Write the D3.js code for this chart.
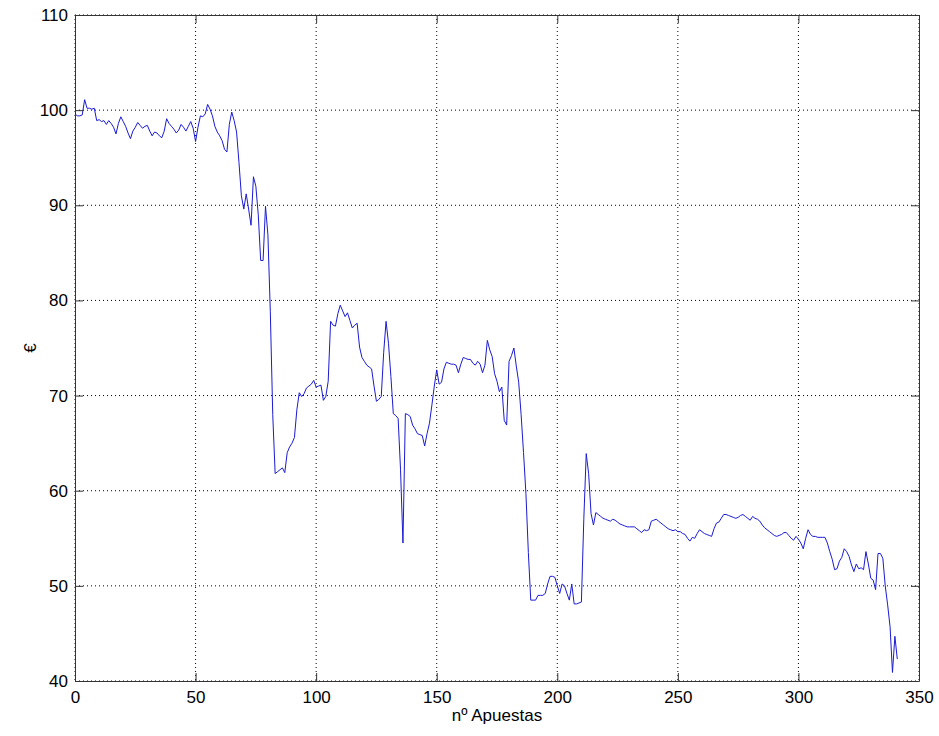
<!DOCTYPE html>
<html>
<head>
<meta charset="utf-8">
<script src="https://cdn.jsdelivr.net/npm/d3@7"></script>
<style>
  body { margin: 0; background: #fff; }
  svg { display: block; font-family: "Liberation Sans", Arial, sans-serif; }
</style>
</head>
<body>
<svg id="chart" width="939" height="736"></svg>
<script>
// balance after each bet (index = bet number)
const euros = [
  99.6, 99.4, 99.4, 99.5, 101.1, 100.2, 100.2, 100.1, 100.2, 98.9,
  99.0, 98.8, 98.9, 98.5, 98.9, 98.6, 98.2, 97.5, 98.6, 99.3,
  98.8, 98.3, 97.6, 97.0, 97.8, 98.2, 98.7, 98.4, 98.1, 98.3,
  98.4, 97.8, 97.3, 97.7, 97.6, 97.3, 97.1, 97.8, 99.1, 98.6,
  98.3, 98.0, 97.6, 97.9, 98.5, 98.2, 97.8, 98.3, 98.8, 98.1,
  96.7, 98.2, 99.4, 99.3, 99.6, 100.6, 100.1, 99.4, 98.3, 97.7,
  97.3, 96.8, 95.9, 95.6, 98.5, 99.8, 98.9, 97.7, 94.5, 91.0,
  89.6, 91.2, 89.6, 87.9, 93.0, 92.0, 89.0, 84.2, 84.2, 89.9,
  86.9, 78.8, 68.0, 61.8, 62.0, 62.2, 62.4, 61.9, 64.0, 64.6,
  65.0, 65.6, 68.5, 70.3, 69.9, 70.2, 70.8, 71.0, 71.2, 71.6,
  70.9, 71.0, 71.1, 69.5, 69.9, 71.5, 77.8, 77.4, 77.3, 78.6,
  79.5, 78.9, 78.3, 78.7, 77.9, 77.1, 77.4, 77.6, 75.1, 74.0,
  73.6, 73.2, 73.0, 72.8, 71.0, 69.4, 69.6, 69.9, 74.5, 77.8,
  75.5, 72.0, 68.1, 67.9, 67.6, 62.2, 54.5, 68.1, 68.0, 67.8,
  66.9, 66.5, 66.0, 65.9, 65.8, 64.7, 66.0, 67.1, 69.0, 71.0,
  72.7, 71.2, 71.4, 72.8, 73.5, 73.4, 73.3, 73.3, 73.2, 72.4,
  73.3, 74.0, 73.9, 73.8, 73.8, 73.4, 73.2, 73.6, 73.3, 72.4,
  73.2, 75.8, 74.8, 74.1, 72.3, 71.5, 70.4, 70.9, 67.4, 66.9,
  73.6, 74.2, 75.0, 73.1, 71.4, 68.0, 64.0, 59.7, 53.5, 48.5,
  48.5, 48.5, 49.0, 49.0, 49.0, 49.2, 50.2, 51.0, 51.0, 50.9,
  50.0, 49.2, 50.2, 50.0, 49.2, 48.5, 50.2, 48.1, 48.1, 48.2,
  48.3, 57.0, 63.9, 61.8, 57.6, 56.4, 57.7, 57.5, 57.3, 57.1,
  57.0, 56.9, 56.8, 57.0, 56.9, 56.7, 56.5, 56.4, 56.3, 56.2,
  56.2, 56.2, 56.2, 56.0, 55.8, 55.6, 55.9, 55.8, 55.9, 56.8,
  56.9, 57.0, 56.8, 56.6, 56.4, 56.2, 56.0, 55.9, 55.8, 55.9,
  55.7, 55.7, 55.5, 55.4, 55.0, 54.7, 55.1, 55.0, 55.5, 55.9,
  55.7, 55.5, 55.4, 55.3, 55.2, 56.0, 56.6, 56.7, 57.1, 57.5,
  57.5, 57.4, 57.3, 57.2, 57.1, 57.2, 57.4, 57.5, 57.3, 57.1,
  56.9, 57.3, 57.1, 57.0, 56.8, 56.4, 56.1, 55.9, 55.7, 55.5,
  55.3, 55.2, 55.3, 55.4, 55.6, 55.6, 55.3, 55.0, 54.8, 55.2,
  54.9, 54.5, 53.9, 55.0, 55.9, 55.4, 55.2, 55.2, 55.1, 55.1,
  55.1, 55.1, 54.5, 53.6, 52.8, 51.7, 51.8, 52.6, 53.0, 53.9,
  53.6, 53.1, 52.2, 51.5, 52.3, 51.8, 51.9, 51.7, 53.6, 52.3,
  50.8, 50.6, 49.6, 53.4, 53.4, 52.9, 50.0, 48.0, 45.7, 40.9,
  44.7, 42.3
];

const xTicks = [0, 50, 100, 150, 200, 250, 300, 350];
const yTicks = [40, 50, 60, 70, 80, 90, 100, 110];
const xLabel = "nº Apuestas";
const yLabel = "€";

const svg = d3.select("#chart"),
      margin = { top: 15, right: 20, bottom: 55, left: 75 },
      width = +svg.attr("width") - margin.left - margin.right,
      height = +svg.attr("height") - margin.top - margin.bottom;

const g = svg.append("g")
    .attr("transform", `translate(${margin.left},${margin.top})`);

const x = d3.scaleLinear().domain([0, 350]).range([0, width]);
const y = d3.scaleLinear().domain([40, 110]).range([height, 0]);

// dotted grid
g.append("g")
    .selectAll("line")
    .data(xTicks)
    .join("line")
    .attr("x1", d => x(d)).attr("x2", d => x(d))
    .attr("y1", 0).attr("y2", height)
    .attr("stroke", "#000")
    .attr("stroke-width", 1)
    .attr("stroke-dasharray", "1,3");

g.append("g")
    .selectAll("line")
    .data(yTicks)
    .join("line")
    .attr("x1", 0).attr("x2", width)
    .attr("y1", d => y(d)).attr("y2", d => y(d))
    .attr("stroke", "#000")
    .attr("stroke-width", 1)
    .attr("stroke-dasharray", "1,3");

// line
const line = d3.line()
    .x((d, i) => x(i))
    .y(d => y(d));

g.append("path")
    .datum(euros)
    .attr("fill", "none")
    .attr("stroke", "#1a1ad6")
    .attr("stroke-width", 1)
    .attr("stroke-linejoin", "round")
    .attr("d", line);

// axes, MATLAB style: ticks pointing inwards
function styleAxis(sel) {
    sel.select(".domain").attr("stroke", "#333");
    sel.selectAll(".tick line").attr("stroke", "#333");
    sel.selectAll("text")
        .attr("fill", "#000")
        .style("font-size", "17px")
        .style("font-family", "'Liberation Sans', Arial, sans-serif");
}

g.append("g")
    .attr("transform", `translate(0,${height})`)
    .call(d3.axisBottom(x).tickValues(xTicks).tickSizeInner(-8).tickSizeOuter(0).tickPadding(10))
    .call(styleAxis);

g.append("g")
    .call(d3.axisLeft(y).tickValues(yTicks).tickSizeInner(-8).tickSizeOuter(0).tickPadding(7))
    .call(styleAxis);

g.append("g")
    .call(d3.axisTop(x).tickValues(xTicks).tickSizeInner(-8).tickSizeOuter(0).tickFormat(""))
    .call(styleAxis);

g.append("g")
    .attr("transform", `translate(${width},0)`)
    .call(d3.axisRight(y).tickValues(yTicks).tickSizeInner(-8).tickSizeOuter(0).tickFormat(""))
    .call(styleAxis);

// X Axis Label
g.append("text")
    .attr("x", width / 2)
    .attr("y", height + 40)
    .attr("text-anchor", "middle")
    .attr("font-size", "17px")
    .text(xLabel);

// Y Axis Label
g.append("text")
    .attr("transform", "rotate(-90)")
    .attr("x", -height / 2)
    .attr("y", -39)
    .attr("text-anchor", "middle")
    .attr("font-size", "17px")
    .text(yLabel);
</script>
</body>
</html>
